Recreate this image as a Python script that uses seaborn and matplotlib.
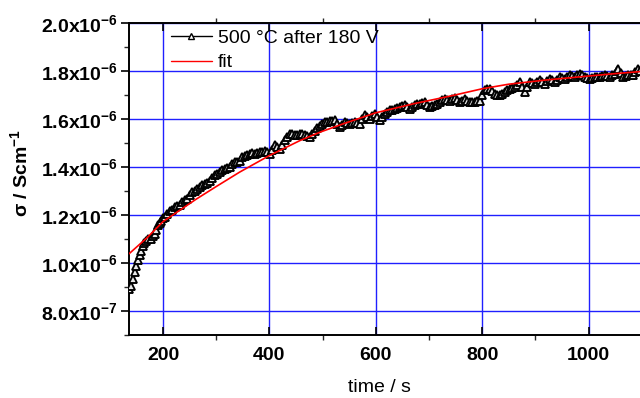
import numpy as np
import pandas as pd
import matplotlib
matplotlib.use("Agg")
import matplotlib.pyplot as plt
import seaborn as sns
from matplotlib.ticker import MultipleLocator, FuncFormatter

time_s = [136, 139, 143.6, 146.5, 149.8, 153, 156, 159, 162, 165, 168.6, 172.5, 176.8, 180.5, 184.3,
          187.5, 190.6, 193.8, 196.9, 200, 203.1, 208, 212.5, 217, 222, 226.5, 231.4, 236, 240.8,
          245.5, 250.2, 255, 259.6, 264, 269, 273.5, 278.4, 283, 287.8, 292.5, 297.2, 302, 306.6,
          311, 316, 320.5, 325.4, 330, 334.8, 339.5, 344.2, 349, 353.6, 358, 363, 367.5, 372.4,
          377, 381.8, 386.5, 391.2, 396, 400.6, 405, 410, 415, 419.4, 424, 428.8, 433.5, 438.2,
          443, 447.6, 452, 457, 462, 466.5, 471, 475.9, 480.5, 485.3, 490, 494.7, 499.5, 504.1,
          509, 513.5, 518, 522.9, 527.5, 532.3, 537, 541.7, 546.5, 551.1, 556, 560.5, 565, 570,
          574.5, 579.3, 584, 588.7, 593.5, 598.1, 603, 607.5, 612, 617, 621.5, 626.3, 631, 635.7,
          640.5, 645.1, 650, 654.5, 659, 663.9, 668.5, 673.4, 678, 682.8, 687.5, 692.2, 697,
          701.6, 706.5, 711, 715.5, 720.4, 725, 729.8, 734.5, 739.2, 744, 748.6, 753.5, 758,
          762.5, 767.4, 772, 776.8, 781.5, 786.2, 791, 795.6, 800.5, 805, 809.5, 814.4, 819,
          823.8, 828.5, 833.2, 838, 842.6, 847.5, 852, 856.5, 861.4, 866, 870.8, 875.5, 880.3,
          885, 889.7, 894.5, 899, 904, 908.5, 913, 917.9, 922.5, 927.3, 932, 936.7, 941.5,
          946.1, 951, 955.5, 960, 964.9, 969.5, 974.3, 979, 983.7, 988.5, 993.1, 998, 1002.5,
          1007, 1011.9, 1016.5, 1021.3, 1026, 1030.7, 1035.5, 1040.1, 1045, 1049.5, 1053, 1055.8,
          1060.5, 1065.2, 1070, 1074.6, 1079.5, 1084, 1088, 1092.2, 1097]
sigma_e6 = [0.892, 0.905, 0.933, 0.962, 0.989, 1.012, 1.031, 1.05, 1.072, 1.085, 1.093, 1.098, 1.10, 1.112, 1.121,
            1.138, 1.156, 1.168, 1.176, 1.185, 1.19, 1.205, 1.218, 1.222, 1.232, 1.236, 1.242, 1.254, 1.26,
            1.268, 1.281, 1.294, 1.301, 1.306, 1.315, 1.324, 1.329, 1.334, 1.343, 1.355, 1.364, 1.369, 1.378,
            1.388, 1.392, 1.394, 1.399, 1.41, 1.419, 1.421, 1.426, 1.44, 1.447, 1.45, 1.454, 1.456, 1.454,
            1.458, 1.461, 1.463, 1.468, 1.46, 1.454, 1.472, 1.489, 1.484, 1.475, 1.49, 1.51, 1.525, 1.538,
            1.535, 1.533, 1.532, 1.535, 1.536, 1.531, 1.528, 1.524, 1.536, 1.551, 1.562, 1.572, 1.58, 1.586,
            1.587, 1.589, 1.592, 1.593, 1.58, 1.565, 1.575, 1.586, 1.582, 1.579, 1.584, 1.586, 1.582, 1.579,
            1.598, 1.614, 1.608, 1.60, 1.612, 1.621, 1.606, 1.593, 1.608, 1.621, 1.628, 1.635, 1.638, 1.642,
            1.646, 1.649, 1.652, 1.656, 1.648, 1.642, 1.65, 1.656, 1.66, 1.663, 1.666, 1.669, 1.658,
            1.649, 1.652, 1.656, 1.662, 1.669, 1.677, 1.683, 1.68, 1.676, 1.681, 1.686, 1.677, 1.669,
            1.676, 1.683, 1.676, 1.669, 1.669, 1.669, 1.672, 1.676, 1.698, 1.718, 1.722, 1.725, 1.715,
            1.704, 1.70, 1.697, 1.704, 1.711, 1.718, 1.725, 1.729, 1.732, 1.742, 1.753, 1.732, 1.711,
            1.732, 1.753, 1.75, 1.746, 1.753, 1.76, 1.753, 1.746, 1.756, 1.767, 1.76, 1.753, 1.763,
            1.774, 1.77, 1.767, 1.774, 1.781, 1.778, 1.774, 1.781, 1.788, 1.781, 1.774, 1.77, 1.767,
            1.77, 1.774, 1.774, 1.774, 1.778, 1.781, 1.778, 1.774, 1.781, 1.788, 1.80, 1.808,
            1.79, 1.774, 1.778, 1.781, 1.781, 1.781, 1.794, 1.806, 1.80]

# fit curve
fit_time = [136, 170, 200, 262, 300, 344, 400, 458, 496, 540, 600, 670, 745, 800, 850, 918, 1000, 1050, 1100]
fit_sigma_e6 = [1.038, 1.105, 1.172, 1.265, 1.318, 1.378, 1.447, 1.51, 1.545, 1.58, 1.625, 1.662, 1.697,
                1.725, 1.744, 1.761, 1.778, 1.788, 1.797]

series_label = "500 \u00b0C after 180 V"
fit_label = "fit"

df_data = pd.DataFrame({"t": time_s, "s": np.array(sigma_e6) * 1e-6})
df_fit = pd.DataFrame({"t": fit_time, "s": np.array(fit_sigma_e6) * 1e-6})

sns.set_style("white")
plt.rcParams["font.family"] = ["Liberation Sans", "DejaVu Sans"]
plt.rcParams["text.color"] = "black"
plt.rcParams["axes.labelcolor"] = "black"
plt.rcParams["mathtext.fontset"] = "custom"
plt.rcParams["mathtext.rm"] = "Liberation Sans"
plt.rcParams["mathtext.bf"] = "Liberation Sans:bold"
plt.rcParams["mathtext.it"] = "Liberation Sans:italic"

fig = plt.figure(figsize=(6.4, 3.98), dpi=100)
ax = fig.add_axes([129 / 640, 1 - 335 / 398, 512.7 / 640, (335 - 22.7) / 398])

ax.grid(True, which="major", color="#2020ff", linewidth=1.0, zorder=1)
ax.set_axisbelow(True)

sns.lineplot(data=df_data, x="t", y="s", ax=ax, color="black", linewidth=1.6,
             marker="^", markersize=6, markerfacecolor="#e8e8e8", markeredgecolor="black",
             markeredgewidth=1.35, label=series_label, sort=False, estimator=None, zorder=3)
sns.lineplot(data=df_fit, x="t", y="s", ax=ax, color="#ff0000", linewidth=1.2,
             label=fit_label, sort=False, estimator=None, zorder=4)

ax.set_xlim(136, 1100)
ax.set_ylim(0.7e-6, 2.0e-6)
ax.xaxis.set_major_locator(MultipleLocator(200))
ax.xaxis.set_minor_locator(MultipleLocator(100))
ax.yaxis.set_major_locator(MultipleLocator(0.2e-6))
ax.yaxis.set_minor_locator(MultipleLocator(0.1e-6))


def yfmt(v, pos):
    if v < 0.95e-6:
        m, e = v * 1e7, 7
    else:
        m, e = v * 1e6, 6
    return r"$\mathbf{%.1fx10^{-%d}}$" % (m, e)


ax.yaxis.set_major_formatter(FuncFormatter(yfmt))
ax.xaxis.set_major_formatter(FuncFormatter(lambda v, p: "%d" % v))

for sp in ax.spines.values():
    sp.set_visible(True)
    sp.set_color("black")
    sp.set_linewidth(1.4)

ax.tick_params(axis="y", which="major", left=True, right=True, direction="out",
               length=6, width=1.2, labelsize=14, pad=2, colors="black")
ax.tick_params(axis="y", which="minor", left=True, right=True, direction="out",
               length=3.5, width=1.0)
ax.tick_params(axis="x", which="major", bottom=True, top=True, direction="in",
               length=6, width=1.2, labelsize=14, pad=9, colors="black")
ax.tick_params(axis="x", which="minor", bottom=True, top=True, direction="out",
               length=3.5, width=1.0)
for lab in ax.get_xticklabels():
    lab.set_fontweight("bold")

ax.set_xlabel("time / s", fontsize=14)
ax.set_ylabel("\u03c3 / Scm$^{\\mathbf{-1}}$", fontsize=14, fontweight="bold")
ax.xaxis.set_label_coords(0.4876, -0.14)
ax.yaxis.set_label_coords(-0.19, 0.52)

leg = ax.legend(loc="upper left", bbox_to_anchor=(0.078, 0.985), frameon=False,
                fontsize=14, handlelength=2.1, handletextpad=0.3, labelspacing=0.35,
                borderpad=0.1, borderaxespad=0.0, numpoints=1)
for h in leg.legend_handles:
    try:
        h.set_markersize(4)
        h.set_linewidth(1.0)
        h.set_markerfacecolor("white")
        h.set_markeredgewidth(1.0)
    except Exception:
        pass
for t in leg.get_texts():
    t.set_color("black")

fig.savefig("out.png", dpi=100)
